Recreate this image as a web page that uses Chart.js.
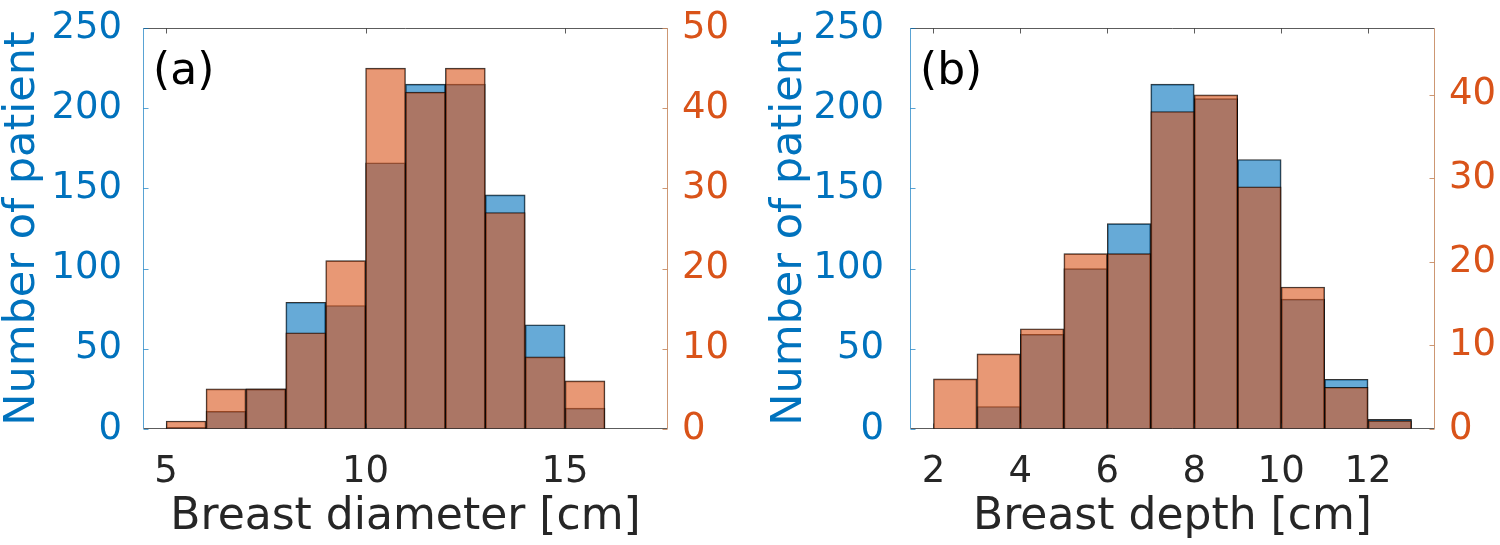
<!DOCTYPE html>
<html>
<head>
<meta charset="utf-8">
<script src="https://cdn.jsdelivr.net/npm/chart.js@4.4.1/dist/chart.umd.min.js"></script>
<style>
body { margin: 0; background: #fff; }
#wrap { position: relative; width: 1500px; height: 545px; }
#wrap canvas { position: absolute; top: 0; }
</style>
</head>
<body>
<div id="wrap">
  <canvas id="chartA" width="750" height="545" style="left:0px"></canvas>
  <canvas id="chartB" width="750" height="545" style="left:750px"></canvas>
</div>
<script>
// left edges of the 1 cm bins
var diamBins = [5, 6, 7, 8, 9, 10, 11, 12, 13, 14, 15];
var diamBlue = [1, 11, 25, 79, 77, 166, 215, 215, 146, 65, 13];   // left axis
var diamOrange = [1, 5, 5, 12, 21, 45, 42, 45, 27, 9, 6];         // right axis

var depthBins = [2, 3, 4, 5, 6, 7, 8, 9, 10, 11, 12];
var depthBlue = [0, 14, 59, 100, 128, 215, 206, 168, 81, 31, 6];
var depthOrange = [6, 9, 12, 21, 21, 38, 40, 29, 17, 5, 1];

var leftTicks = [0, 50, 100, 150, 200, 250];
var rightTicksA = [0, 10, 20, 30, 40, 50];
var rightTicksB = [0, 10, 20, 30, 40];
var xTicksA = [5, 10, 15];
var xTicksB = [2, 4, 6, 8, 10, 12];

var BLUE = '#0072BD';
var ORANGE = '#D95319';
var DARK = '#262626';
var FONT = "'DejaVu Sans', sans-serif";

function toPoints(bins, vals) {
    var pts = [];
    for (let i = 0; i < bins.length; i++) {
        pts.push({ x: bins[i] + 0.5, y: vals[i] });
    }
    return pts;
}

function fixTicks(list) {
    return function (scale) {
        scale.ticks = list.map(function (v) { return { value: v }; });
    };
}

// fixed axis size, and no extra room asked for the end labels
function fixSize(key, size) {
    return function (s) {
        s[key] = size;
        s.paddingTop = 0;
        s.paddingBottom = 0;
        s.paddingLeft = 0;
        s.paddingRight = 0;
    };
}

// frame, inward tick marks and the panel letter
var framePlugin = {
    id: 'frame',
    afterDraw: function (chart, args, opts) {
        var ctx = chart.ctx, a = chart.chartArea;
        var sx = chart.scales.x, sy = chart.scales.y, sy2 = chart.scales.y2;
        var L = Math.round(a.left) + 0.5, R = Math.round(a.right) - 0.5;
        var T = Math.round(a.top) + 0.5, B = Math.round(a.bottom) - 0.5;
        var len = 5;
        ctx.save();
        ctx.lineWidth = 1;

        ctx.strokeStyle = 'rgba(38,38,38,0.75)';
        ctx.beginPath();
        ctx.moveTo(L, T); ctx.lineTo(R, T);
        ctx.moveTo(L, B); ctx.lineTo(R, B);
        sx.ticks.forEach(function (t) {
            var px = Math.round(sx.getPixelForValue(t.value)) + 0.5;
            ctx.moveTo(px, B); ctx.lineTo(px, B - len);
            ctx.moveTo(px, T); ctx.lineTo(px, T + len);
        });
        ctx.stroke();

        ctx.strokeStyle = 'rgba(0,114,189,0.65)';
        ctx.beginPath();
        ctx.moveTo(L, T); ctx.lineTo(L, B);
        sy.ticks.forEach(function (t) {
            var py = Math.round(sy.getPixelForValue(t.value)) + 0.5;
            ctx.moveTo(L, py); ctx.lineTo(L + len, py);
        });
        ctx.stroke();

        ctx.strokeStyle = 'rgba(200,140,100,0.9)';
        ctx.beginPath();
        ctx.moveTo(R, T); ctx.lineTo(R, B);
        sy2.ticks.forEach(function (t) {
            var py = Math.round(sy2.getPixelForValue(t.value)) + 0.5;
            ctx.moveTo(R, py); ctx.lineTo(R - len, py);
        });
        ctx.stroke();

        ctx.fillStyle = '#000';
        ctx.font = '44px ' + FONT;
        ctx.textBaseline = 'middle';
        ctx.textAlign = 'left';
        ctx.fillText(opts.label, a.left + 10, a.top + 45);
        ctx.restore();
    }
};

function makeChart(id, cfg) {
    var ctx = document.getElementById(id).getContext('2d');
    return new Chart(ctx, {
        type: 'bar',
        data: {
            datasets: [{
                data: toPoints(cfg.bins, cfg.orange),
                yAxisID: 'y2',
                backgroundColor: 'rgba(217,83,25,0.6)',
                borderColor: 'rgba(0,0,0,0.8)',
                borderWidth: 1,
                order: 0
            }, {
                data: toPoints(cfg.bins, cfg.blue),
                yAxisID: 'y',
                backgroundColor: 'rgba(0,114,189,0.6)',
                borderColor: 'rgba(0,0,0,0.8)',
                borderWidth: 1,
                order: 1
            }]
        },
        options: {
            responsive: false,
            animation: false,
            devicePixelRatio: 1,
            grouped: false,
            barPercentage: 1,
            categoryPercentage: 1,
            layout: { padding: { top: 28, left: 0, right: 0, bottom: 0 } },
            plugins: {
                legend: { display: false },
                tooltip: { enabled: false },
                frame: { label: cfg.label }
            },
            scales: {
                x: {
                    type: 'linear',
                    offset: false,
                    min: cfg.xmin,
                    max: cfg.xmax,
                    grid: { display: false, drawTicks: false },
                    border: { display: false },
                    afterBuildTicks: fixTicks(cfg.xTicks),
                    afterFit: fixSize('height', 116),
                    ticks: { color: DARK, font: { family: FONT, size: 37 }, padding: 21, maxRotation: 0 },
                    title: {
                        display: true, text: cfg.xTitle, color: DARK,
                        font: { family: FONT, size: 44, lineHeight: 1.2 },
                        padding: { top: 0, bottom: 1 }
                    }
                },
                y: {
                    position: 'left',
                    min: 0,
                    max: 250,
                    grid: { display: false, drawTicks: false },
                    border: { display: false },
                    afterBuildTicks: fixTicks(leftTicks),
                    afterFit: fixSize('width', cfg.leftW),
                    ticks: { color: BLUE, font: { family: FONT, size: 37 }, padding: cfg.leftPad },
                    title: {
                        display: true, text: 'Number of patient', color: BLUE,
                        font: { family: FONT, size: 43, lineHeight: 1.0 },
                        padding: { top: cfg.titlePad, bottom: 0 }
                    }
                },
                y2: {
                    position: 'right',
                    min: 0,
                    max: cfg.rmax,
                    grid: { display: false, drawTicks: false },
                    border: { display: false },
                    afterBuildTicks: fixTicks(cfg.rTicks),
                    afterFit: fixSize('width', cfg.rightW),
                    ticks: { color: ORANGE, font: { family: FONT, size: 37 }, padding: 14 }
                }
            }
        },
        plugins: [framePlugin]
    });
}

makeChart('chartA', {
    bins: diamBins, blue: diamBlue, orange: diamOrange,
    xmin: 4.42, xmax: 17.58, xTicks: xTicksA, rTicks: rightTicksA, rmax: 50,
    xTitle: 'Breast diameter [cm]', label: '(a)',
    leftW: 143, rightW: 82, leftPad: 21, titlePad: 1
});

makeChart('chartB', {
    bins: depthBins, blue: depthBlue, orange: depthOrange,
    xmin: 1.46, xmax: 13.54, xTicks: xTicksB, rTicks: rightTicksB, rmax: 48,
    xTitle: 'Breast depth [cm]', label: '(b)',
    leftW: 160, rightW: 65, leftPad: 26, titlePad: 18
});
</script>
</body>
</html>
